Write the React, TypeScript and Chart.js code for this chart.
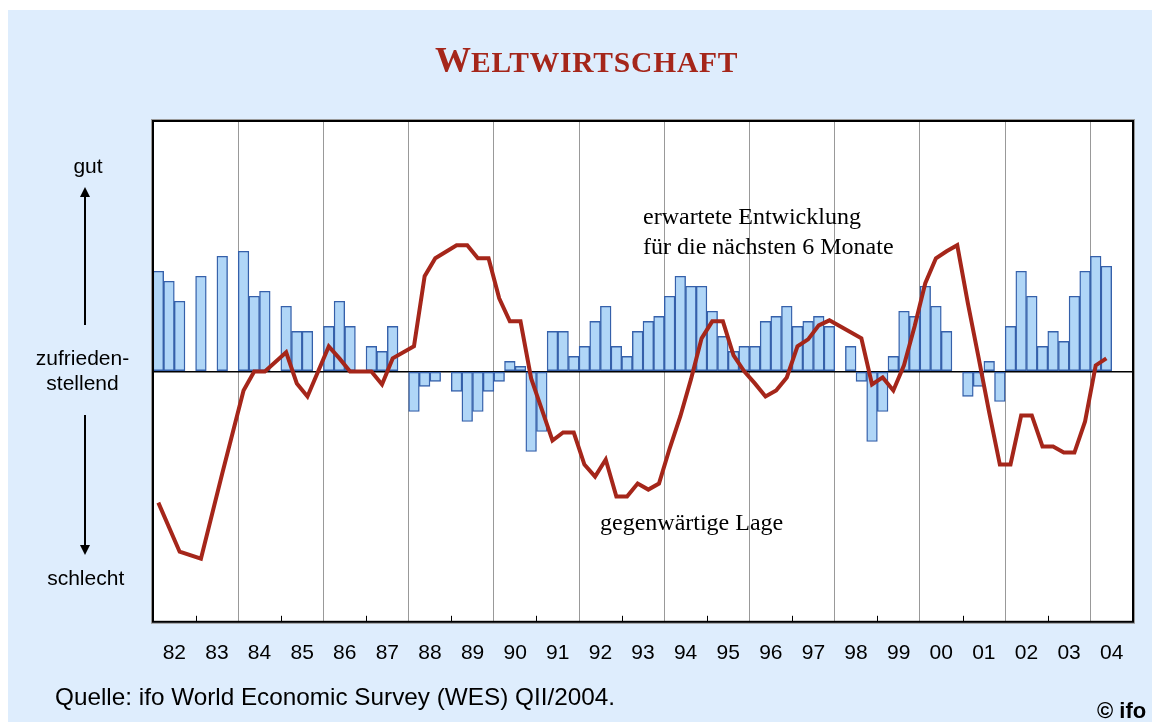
import React, { useEffect, useRef } from "react";
import { Chart, registerables } from "chart.js";

Chart.register(...registerables);

// ---- data ----
const YEAR_LABELS = [
  "82", "83", "84", "85", "86", "87", "88", "89", "90", "91", "92", "93",
  "94", "95", "96", "97", "98", "99", "00", "01", "02", "03", "04",
];

// erwartete Entwicklung (bars), one value per quarter 1982 Q1 … 2004 Q4
const EXPECTATIONS: (number | null)[] = [
  10.0, 9.0, 7.0, null,
  9.5, null, 11.5, null,
  12.0, 7.5, 8.0, null,
  6.5, 4.0, 4.0, null,
  4.5, 7.0, 4.5, null,
  2.5, 2.0, 4.5, null,
  -4.0, -1.5, -1.0, null,
  -2.0, -5.0, -4.0, -2.0,
  -1.0, 1.0, 0.5, -8.0,
  -6.0, 4.0, 4.0, 1.5,
  2.5, 5.0, 6.5, 2.5,
  1.5, 4.0, 5.0, 5.5,
  7.5, 9.5, 8.5, 8.5,
  6.0, 3.5, 2.0, 2.5,
  2.5, 5.0, 5.5, 6.5,
  4.5, 5.0, 5.5, 4.5,
  null, 2.5, -1.0, -7.0,
  -4.0, 1.5, 6.0, 5.5,
  8.5, 6.5, 4.0, null,
  -2.5, -1.5, 1.0, -3.0,
  4.5, 10.0, 7.5, 2.5,
  4.0, 3.0, 7.5, 10.0,
  11.5, 10.5, null, null,
];

// gegenwärtige Lage (line)
const CURRENT_SITUATION: (number | null)[] = [
  -13.1, null, -18.0, null,
  -18.7, null, -10.2, null,
  -1.9, 0.0, 0.0, null,
  1.9, -1.2, -2.5, null,
  2.5, 1.3, 0.0, null,
  0.0, -1.3, 1.3, null,
  2.5, 9.5, 11.3, null,
  12.6, 12.6, 11.3, 11.3,
  7.3, 5.0, 5.0, -0.7,
  -3.8, -6.9, -6.1, -6.1,
  -9.3, -10.5, -8.8, -12.5,
  -12.5, -11.2, -11.8, -11.2,
  -7.7, -4.5, -0.8, 3.3,
  5.0, 5.0, 1.6, 0.0,
  -1.2, -2.5, -1.9, -0.6,
  2.5, 3.2, 4.6, 5.1,
  4.5, 3.9, 3.3, -1.3,
  -0.6, -1.9, 0.6, 4.5,
  8.8, 11.3, 12.0, 12.6,
  6.8, 1.4, -4.1, -9.3,
  -9.3, -4.4, -4.4, -7.5,
  -7.5, -8.1, -8.1, -5.0,
  0.6, 1.3, null, null,
];

const Y_MIN = -25;
const Y_MAX = 25;

const QUARTERS = YEAR_LABELS.length * 4;

const BG = "#deedfd";
const BAR_FILL = "#b0d6f7";
const BAR_EDGE = "#3560aa";
const LINE_RED = "#a5261a";

const framePlugin = {
  id: "frame",
  beforeDraw(chart: any) {
    const { ctx, chartArea: a } = chart;
    ctx.save();
    ctx.fillStyle = "#ffffff";
    ctx.fillRect(a.left, a.top, a.right - a.left, a.bottom - a.top);
    ctx.restore();
  },
  afterDatasetsDraw(chart: any) {
    const { ctx, chartArea: a, scales } = chart;
    const x = scales.x;
    ctx.save();
    ctx.strokeStyle = "#000";
    ctx.lineWidth = 1;
    for (let q = 4; q < QUARTERS; q += 8) {
      const px = Math.round(x.getPixelForValue(q)) + 0.5;
      ctx.beginPath();
      ctx.moveTo(px, a.bottom);
      ctx.lineTo(px, a.bottom - 6);
      ctx.stroke();
    }
    ctx.strokeStyle = "#9a9a9a";
    ctx.lineWidth = 1;
    ctx.strokeRect(a.left - 1.5, a.top - 1.5, a.right - a.left + 3, a.bottom - a.top + 3);
    ctx.strokeStyle = "#000";
    ctx.lineWidth = 2;
    ctx.strokeRect(a.left, a.top, a.right - a.left, a.bottom - a.top);
    ctx.restore();
  },
};

function ChartCanvas() {
  const ref = useRef<HTMLCanvasElement | null>(null);
  useEffect(() => {
    if (!ref.current) return;
    const barData = EXPECTATIONS.map((v, i) => ({ x: i + 0.5, y: v }));
    const lineData = CURRENT_SITUATION.map((v, i) => ({ x: i + 0.5, y: v }));
    const xTicks: number[] = [];
    for (let v = 0; v <= QUARTERS; v += 2) xTicks.push(v);

    const chart = new Chart(ref.current, {
      type: "bar",
      data: {
        datasets: [
          {
            type: "line",
            label: "gegenwärtige Lage",
            data: lineData as any,
            borderColor: LINE_RED,
            borderWidth: 4,
            pointRadius: 0,
            spanGaps: true,
            tension: 0,
            fill: false,
            order: 0,
          } as any,
          {
            type: "bar",
            label: "erwartete Entwicklung",
            data: barData as any,
            backgroundColor: BAR_FILL,
            borderColor: BAR_EDGE,
            borderWidth: 1.4,
            borderSkipped: false,
            barPercentage: 1,
            categoryPercentage: 1,
            order: 1,
          } as any,
        ],
      },
      plugins: [framePlugin],
      options: {
        animation: false,
        responsive: false,
        devicePixelRatio: 1,
        events: [],
        layout: { padding: { left: 145, top: 111, right: 19, bottom: 37 } },
        plugins: { legend: { display: false }, tooltip: { enabled: false } },
        scales: {
          x: {
            type: "linear",
            min: 0,
            max: QUARTERS,
            offset: false,
            afterBuildTicks: (scale: any) => {
              scale.ticks = xTicks.map((v) => ({ value: v }));
            },
            grid: {
              offset: false,
              drawTicks: false,
              lineWidth: 1,
              color: (ctx: any) => {
                const v = ctx.tick ? ctx.tick.value : -1;
                return v % 8 === 0 && v > 0 && v < QUARTERS ? "#999999" : "rgba(0,0,0,0)";
              },
            },
            border: { display: false },
            ticks: {
              autoSkip: false,
              maxRotation: 0,
              minRotation: 0,
              padding: 19,
              color: "#000",
              font: { family: "'Liberation Sans', Arial, sans-serif", size: 21 },
              callback: (value: any) => {
                const v = Number(value);
                return v % 4 === 2 ? YEAR_LABELS[(v - 2) / 4] : "";
              },
            },
          },
          y: {
            type: "linear",
            min: Y_MIN,
            max: Y_MAX,
            afterBuildTicks: (scale: any) => {
              scale.ticks = [{ value: Y_MIN }, { value: 0 }, { value: Y_MAX }];
            },
            grid: {
              drawTicks: false,
              lineWidth: 1.5,
              color: (ctx: any) =>
                ctx.tick && ctx.tick.value === 0 ? "#000" : "rgba(0,0,0,0)",
            },
            border: { display: false },
            ticks: { display: false },
          },
        },
      } as any,
    });
    return () => chart.destroy();
  }, []);
  return (
    <canvas
      ref={ref}
      width={1144}
      height={712}
      style={{ position: "absolute", left: 0, top: 0, width: 1144, height: 712 }}
    />
  );
}

const SANS = "'Liberation Sans', Arial, sans-serif";
const SERIF = "'Liberation Serif', 'Times New Roman', serif";

function Txt(props: {
  text: string;
  x: number;
  baseline: number;
  size: number;
  serif?: boolean;
  bold?: boolean;
  align?: "left" | "center";
}) {
  const { text, x, baseline, size, serif, bold, align } = props;
  const k = serif ? 0.8375 : 0.8465;
  const top = baseline - k * size;
  const style: React.CSSProperties = {
    position: "absolute",
    top,
    fontFamily: serif ? SERIF : SANS,
    fontSize: size,
    lineHeight: `${size}px`,
    fontWeight: bold ? 700 : 400,
    whiteSpace: "nowrap",
    color: "#000",
  };
  if (align === "center") {
    style.left = x - 150;
    style.width = 300;
    style.textAlign = "center";
  } else {
    style.left = x;
  }
  return <div style={style}>{text}</div>;
}

export default function App() {
  // all coordinates below are relative to the blue panel (page offset 8, 10)
  return (
    <div
      style={{
        position: "absolute",
        left: 8,
        top: 10,
        width: 1144,
        height: 712,
        background: BG,
        overflow: "hidden",
      }}
    >
      <ChartCanvas />
      <div
        style={{
          position: "absolute",
          left: 427,
          top: 61.7 - 0.8375 * 36,
          fontFamily: SERIF,
          fontWeight: 700,
          color: LINE_RED,
          fontSize: 36,
          lineHeight: "36px",
          whiteSpace: "nowrap",
        }}
      >
        W<span style={{ fontSize: 29.5, lineHeight: "29px", letterSpacing: 0.8 }}>ELTWIRTSCHAFT</span>
      </div>

      <Txt text="gut" x={80} baseline={162.3} size={21} align="center" />
      <Txt text="zufrieden-" x={74.5} baseline={355} size={21} align="center" />
      <Txt text="stellend" x={74.5} baseline={379.3} size={21} align="center" />
      <Txt text="schlecht" x={77.7} baseline={574.3} size={21} align="center" />

      <svg
        width={160}
        height={712}
        style={{ position: "absolute", left: 0, top: 0 }}
      >
        <line x1={77} y1={186} x2={77} y2={315} stroke="#000" strokeWidth={2} />
        <polygon points="72,187 82,187 77,177" fill="#000" />
        <line x1={77} y1={405} x2={77} y2={535} stroke="#000" strokeWidth={2} />
        <polygon points="72,535 82,535 77,545" fill="#000" />
      </svg>

      <Txt text="erwartete Entwicklung" x={635} baseline={214} size={24} serif />
      <Txt text="für die nächsten 6 Monate" x={635} baseline={244} size={24} serif />
      <Txt text="gegenwärtige Lage" x={592} baseline={520} size={24} serif />

      <Txt
        text="Quelle: ifo World Economic Survey (WES) QII/2004."
        x={47}
        baseline={695.5}
        size={24.3}
      />
      <Txt text="© ifo" x={1089} baseline={709} size={22} bold />
    </div>
  );
}
